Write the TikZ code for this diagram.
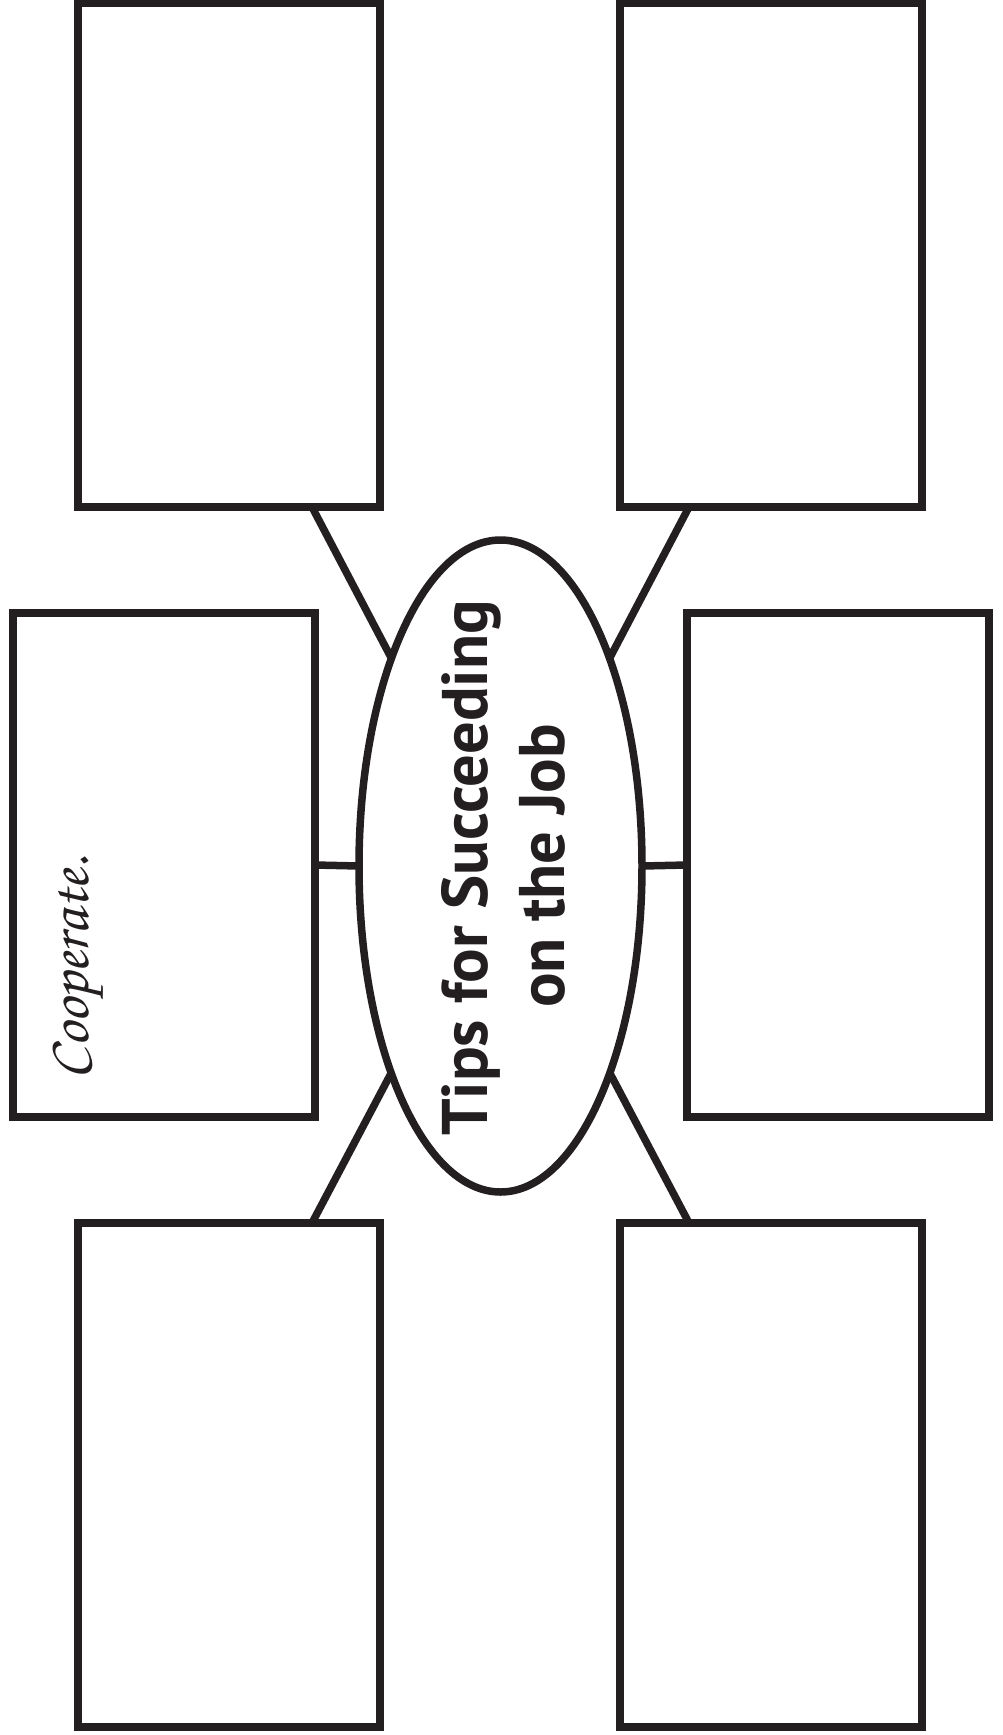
\documentclass[tikz,border=0pt]{standalone}
\usepackage{fontspec}
\setmainfont{PT Sans}
\usetikzlibrary{shapes.geometric,calc}
\definecolor{ink}{HTML}{231F20}
\begin{document}
\begin{tikzpicture}[x=1pt,y=-1pt,
  tipbox/.style={draw=ink, line width=8pt, rectangle, minimum width=302pt, minimum height=504pt, inner sep=0pt, outer sep=0pt},
  hub/.style={draw=ink, line width=7.5pt, ellipse, minimum width=283pt, minimum height=652pt, inner sep=0pt, outer sep=0pt},
  link/.style={draw=ink, line width=7.5pt},
  titletext/.style={rotate=90, anchor=base, inner sep=0pt, text=ink, font=\fontsize{64.5}{74}\selectfont\bfseries},
  handtext/.style={rotate=90, anchor=base, inner sep=0pt, text=ink, font=\fontencoding{T1}\fontfamily{pzc}\fontsize{60}{64}\selectfont}]
\useasboundingbox (0,0) rectangle (1002,1735);
\node[tipbox] (TL) at (229,255) {};
\node[tipbox] (TR) at (771,255) {};
\node[tipbox] (ML) at (164,865) {};
\node[tipbox] (MR) at (838,865) {};
\node[tipbox] (BL) at (229,1475) {};
\node[tipbox] (BR) at (771,1475) {};
\node[hub] (E) at (500.5,866) {};
\coordinate (cTL) at (312,507);
\coordinate (cTR) at (689,507);
\coordinate (cBL) at (312,1223);
\coordinate (cBR) at (689,1223);
\draw[link] (cTL) -- (E);
\draw[link] (cTR) -- (E);
\draw[link] (cBL) -- (E);
\draw[link] (cBR) -- (E);
\draw[link] (ML.east) -- (E.west);
\draw[link] (MR.west) -- (E.east);
\node[titletext] (t1) at (487,868) {Tips for Succeeding};
\node[titletext] (t2) at (564,866) {on the Job};
\node[handtext] (coop) at (88,968) {Cooperate.};
\end{tikzpicture}
\end{document}
